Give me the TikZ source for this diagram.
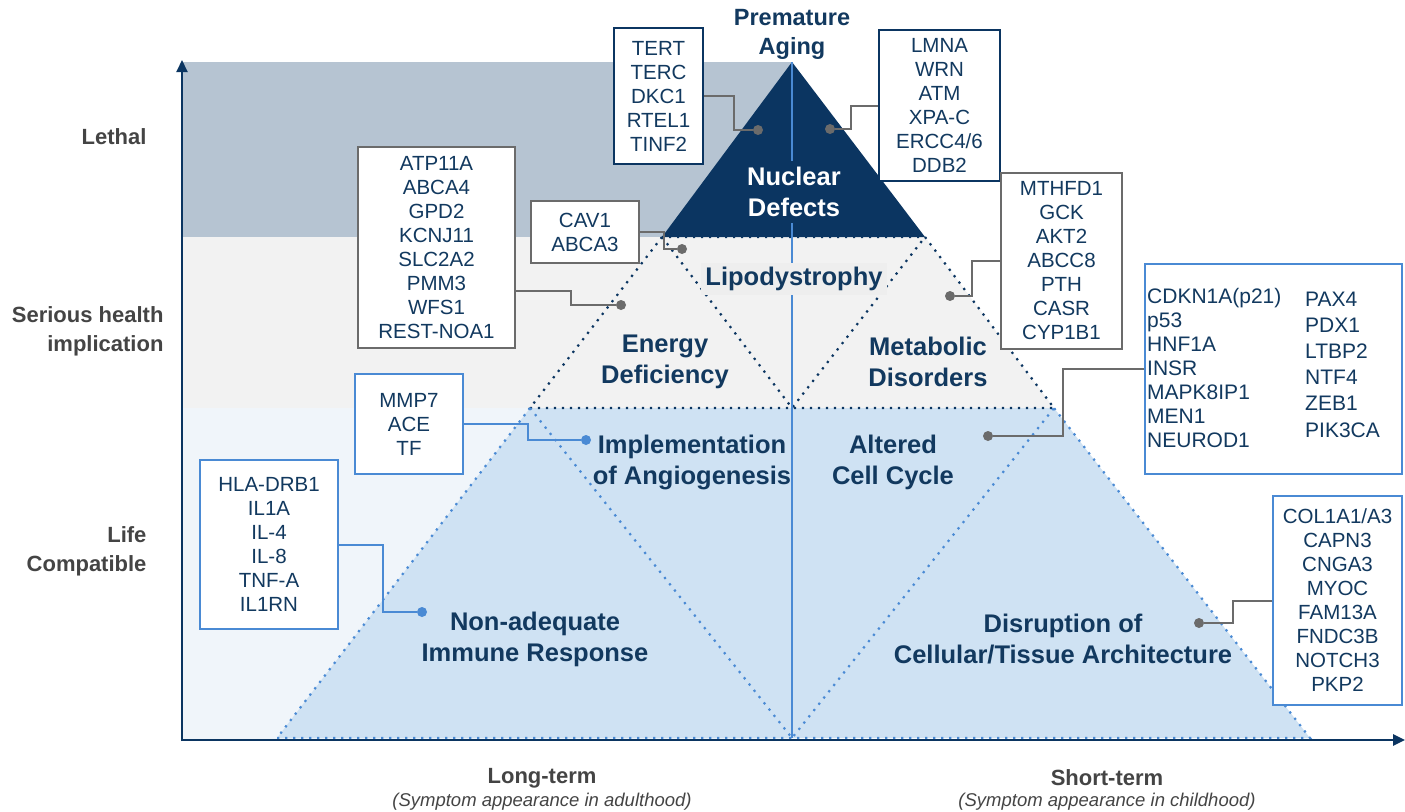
\documentclass[tikz,border=0pt]{standalone}
\usepackage{fontspec}
\setmainfont{Liberation Sans}
\usetikzlibrary{arrows.meta}
\definecolor{navyc}{HTML}{0B3561}
\definecolor{inkc}{HTML}{12395F}
\definecolor{lethalc}{HTML}{B6C4D2}
\definecolor{seriousc}{HTML}{F2F2F2}
\definecolor{lipoc}{HTML}{EEEEEE}
\definecolor{lifec}{HTML}{F0F5FA}
\definecolor{pyrc}{HTML}{CFE2F3}
\definecolor{linec}{HTML}{4A8AD4}
\definecolor{greyc}{HTML}{6B6B6B}
\definecolor{axlabc}{HTML}{444444}
\newcommand\boxfont{\fontsize{20.5}{24}\selectfont}
\newcommand\labfont{\fontsize{25.5}{31}\selectfont\bfseries}
\newcommand\axfont{\fontsize{22}{29}\selectfont\bfseries}
\newcommand\subfont{\fontsize{18.5}{20}\selectfont\itshape}

\begin{document}
\begin{tikzpicture}[x=1pt,y=-1pt,
	navybox/.style={draw=navyc,fill=white,line width=2pt,inner sep=0pt,text=inkc,align=center,font=\boxfont},
	greybox/.style={navybox,draw=greyc},
	bluebox/.style={navybox,draw=linec},
	coltext/.style={text=inkc,align=left,anchor=west,inner sep=0pt},
	lab/.style={text=inkc,align=center,font=\labfont},
	axlab/.style={text=axlabc,align=right,anchor=east,font=\axfont},
	gline/.style={greyc,line width=2pt},
	bline/.style={linec,line width=2pt},
	gdot/.style={circle,fill=greyc,inner sep=0pt,minimum size=10pt},
	bdot/.style={gdot,fill=linec},
	ndots/.style={navyc,line width=2.2pt,dash pattern=on 2.2pt off 5.8pt},
	bdots/.style={ndots,linec}]

	\useasboundingbox (0,0) rectangle (1405,811);

	\coordinate (apex) at (792,62);
	\coordinate (nl) at (662,237);
	\coordinate (nr) at (925,237);
	\coordinate (ml) at (530,408);
	\coordinate (mr) at (1054,408);
	\coordinate (mc) at (792,408);
	\coordinate (bl) at (277,738);
	\coordinate (br) at (1310,738);
	\coordinate (bc) at (792,738);

	\fill[lethalc] (182,62) rectangle (792,237);
	\fill[seriousc] (182,237) rectangle (792,408);
	\fill[lifec] (182,408) rectangle (792,740);
	\fill[seriousc] (nl) -- (nr) -- (mr) -- (ml) -- cycle;
	\fill[pyrc] (ml) -- (mr) -- (br) -- (bl) -- cycle;
	\fill[navyc] (apex) -- (nr) -- (nl) -- cycle;

	\draw[ndots] (nl) -- (ml) -- (mr) -- (nr) -- cycle;
	\draw[ndots] (nl) -- (mc) -- (nr);
	\draw[bdots] (ml) -- (bl) -- (br) -- (mr);
	\draw[bdots] (ml) -- (bc) -- (mr);
	\draw[bline] (apex) -- (bc);

	\draw[navyc,line width=2pt,-{Triangle[length=12pt,width=11pt]}] (182,741) -- (182,60);
	\draw[navyc,line width=2.5pt,-{Triangle[length=12pt,width=11pt]}] (181,740) -- (1405,740);

	\node[lab,font=\fontsize{23.5}{29}\selectfont\bfseries] (aging) at (792,34) {Premature\\Aging};
	\node[lab,text=white,fill=navyc,inner sep=6pt] (nuclear) at (794,192) {Nuclear\\Defects};
	\node[lab,fill=lipoc,inner sep=4pt] (lipo) at (794,279) {Lipodystrophy};
	\node[lab] (energy) at (665,362) {Energy\\Deficiency};
	\node[lab] (metab) at (928,362) {Metabolic\\Disorders};
	\node[lab] (angio) at (692,462) {Implementation\\of Angiogenesis};
	\node[lab] (cycle) at (893,462) {Altered\\Cell Cycle};
	\node[lab] (immune) at (535,639) {Non-adequate\\Immune Response};
	\node[lab] (disrupt) at (1063,639) {Disruption of\\Cellular/Tissue Architecture};

	\node[axlab] (lethal) at (150,137) {Lethal};
	\node[axlab] (serious) at (167,331.5) {Serious health\\implication};
	\node[axlab] (life) at (150,551) {Life\\Compatible};
	\node[text=axlabc,font=\axfont] (longt) at (542,778) {Long-term};
	\node[text=axlabc,font=\subfont] (longs) at (542,802) {(Symptom appearance in adulthood)};
	\node[text=axlabc,font=\axfont] (shortt) at (1107,778) {Short-term};
	\node[text=axlabc,font=\subfont] (shorts) at (1107,802) {(Symptom appearance in childhood)};

	\node[navybox,minimum width=89pt,minimum height=136pt] (tert) at (658.5,96) {TERT\\TERC\\DKC1\\RTEL1\\TINF2};
	\node[navybox,minimum width=121pt,minimum height=151pt] (lmna) at (939.5,105.5) {LMNA\\WRN\\ATM\\XPA-C\\ERCC4/6\\DDB2};
	\node[greybox,minimum width=157pt,minimum height=201pt] (atp) at (436.5,247.5) {ATP11A\\ABCA4\\GPD2\\KCNJ11\\SLC2A2\\PMM3\\WFS1\\REST-NOA1};
	\node[greybox,minimum width=108pt,minimum height=62pt] (cav) at (585,232) {CAV1\\ABCA3};
	\node[greybox,minimum width=121pt,minimum height=176pt] (mth) at (1061.5,261) {MTHFD1\\GCK\\AKT2\\ABCC8\\PTH\\CASR\\CYP1B1};
	\node[bluebox,minimum width=257pt,minimum height=210pt] (cdk) at (1273.5,368.5) {};
	\node[coltext,font=\fontsize{21}{24}\selectfont] (cdkl) at (1147,368) {CDKN1A(p21)\\p53\\HNF1A\\INSR\\MAPK8IP1\\MEN1\\NEUROD1};
	\node[coltext,font=\fontsize{21}{26.2}\selectfont] (cdkr) at (1305,364.5) {PAX4\\PDX1\\LTBP2\\NTF4\\ZEB1\\PIK3CA};
	\node[bluebox,minimum width=108pt,minimum height=100pt] (mmp) at (409,424) {MMP7\\ACE\\TF};
	\node[bluebox,minimum width=138pt,minimum height=169pt] (hla) at (269,544.5) {HLA-DRB1\\IL1A\\IL-4\\IL-8\\TNF-A\\IL1RN};
	\node[bluebox,minimum width=129pt,minimum height=209pt] (col) at (1337.5,600.5) {COL1A1/A3\\CAPN3\\CNGA3\\MYOC\\FAM13A\\FNDC3B\\NOTCH3\\PKP2};

	\node[gdot] (dtert) at (758,130) {};
	\node[gdot] (dlmna) at (830,129) {};
	\node[gdot] (datp) at (621,305) {};
	\node[gdot] (dcav) at (682,249) {};
	\node[gdot] (dmth) at (950,296) {};
	\node[gdot] (dcdk) at (988,436) {};
	\node[bdot] (dmmp) at (586,440) {};
	\node[bdot] (dhla) at (422,612) {};
	\node[gdot] (dcol) at (1199,623) {};

	\draw[gline] (tert.east) -- ++(30,0) |- (dtert);
	\draw[gline] (lmna.west) -- ++(-27,0) |- (dlmna);
	\draw[gline] ([yshift=-43.5pt]atp.east) -- ++(55,0) |- (datp);
	\draw[gline] (cav.east) -- ++(24,0) |- (dcav);
	\draw[gline] (mth.west) -- ++(-28,0) |- (dmth);
	\draw[gline] (cdk.west) -- ++(-81,0) |- (dcdk);
	\draw[bline] (mmp.east) -- ++(64,0) |- (dmmp);
	\draw[bline] (hla.east) -- ++(44,0) |- (dhla);
	\draw[gline] (col.west) -- ++(-39,0) |- (dcol);
\end{tikzpicture}
\end{document}
